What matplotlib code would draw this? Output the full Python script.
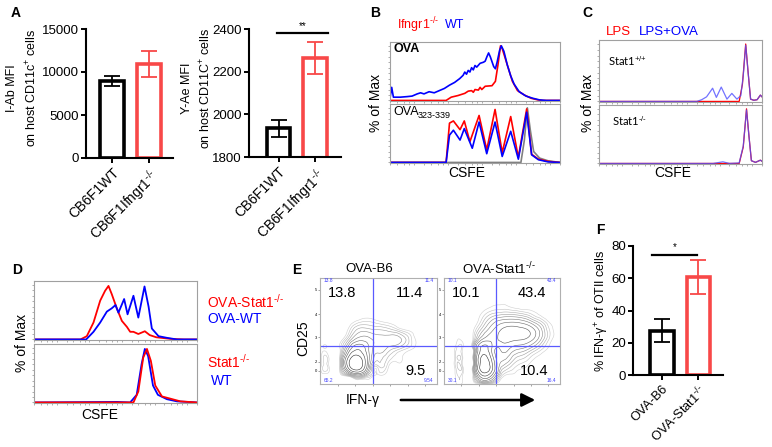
import numpy as np
import matplotlib
matplotlib.use("Agg")
import matplotlib.pyplot as plt
import matplotlib.tri as mtri
from matplotlib.patches import FancyArrowPatch

plt.rcParams['font.family'] = ['Liberation Sans', 'DejaVu Sans']
plt.rcParams['mathtext.fontset'] = 'custom'
plt.rcParams['mathtext.rm'] = 'Liberation Sans'
plt.rcParams['mathtext.it'] = 'Liberation Sans:italic'
plt.rcParams['mathtext.bf'] = 'Liberation Sans:bold'

RED = '#ff0000'
BLUE = '#0000ff'
BAR_RED = '#f84848'
KO = r'$^{\text{-/-}}$'
WTP = r'$^{\text{+/+}}$'

# ---------- data: bar charts ----------
a1_groups = ['CB6F1WT', 'CB6F1Ifngr1' + KO]
a1_means = [8950, 10950]
a1_err = [600, 1500]

a2_groups = ['CB6F1WT', 'CB6F1Ifngr1' + KO]
a2_means = [1935, 2265]
a2_err = [40, 75]

f_groups = ['OVA-B6', 'OVA-Stat1' + KO]
f_means = [27.5, 61]
f_err = [7, 10.5]

# ---------- data: CSFE histograms (x = position in box %, y = % of max) ----------
b_ova_wt_x = [0, 1, 2, 6, 10, 13, 16, 18, 20, 23, 26, 29, 32, 35, 38, 41, 43, 44, 45, 46, 47, 48, 49, 50,
              51, 53, 55, 56, 57, 58, 59, 61, 62, 63, 64.5, 65.5, 67, 69, 71, 73, 76, 80, 84, 88, 92, 100]
b_ova_wt_y = [4, 24, 6, 6, 7, 8, 12, 14, 12, 16, 14, 18, 22, 28, 33, 40, 46, 52, 48, 55, 52, 60, 56, 64,
              61, 68, 70, 72, 80, 87, 80, 62, 58, 70, 92, 100, 90, 65, 45, 30, 16, 8, 4, 1, 0, 0]
b_ova_ko_x = [0, 33, 36, 40, 44, 46, 48, 49, 50, 52, 53, 54, 56, 60, 62, 63.5, 65, 66, 67.5, 69, 72, 75, 79, 83, 87, 90, 100]
b_ova_ko_y = [0, 0, 6, 9, 13, 17, 18, 15, 20, 19, 24, 20, 26, 27, 35, 65, 100, 95, 80, 65, 35, 18, 10, 4, 1, 0, 0]

b_pep_ko_x = [0, 33, 35, 37.3, 41.2, 43.7, 47, 52.4, 56.9, 61.8, 66, 71, 75.5, 80.4, 83.3, 87.3, 93, 100]
b_pep_ko_y = [0, 0, 72, 76, 60, 76, 38, 86, 23, 97, 18, 84, 9, 98, 15, 6, 2, 0]
b_pep_wt_x = [0, 33, 35, 37.3, 41.2, 43.7, 48.4, 52.4, 56.9, 61.8, 66, 71, 75.5, 80.4, 83.3, 87.3, 93, 100]
b_pep_wt_y = [0, 0, 50, 59, 41, 62, 26, 74, 16, 74, 11, 57, 6, 92, 14, 5, 1, 0]
b_pep_ctl_x = [0, 77, 79, 80.8, 82.5, 84.5, 88, 93, 100]
b_pep_ctl_y = [0, 0, 40, 100, 60, 20, 8, 3, 0]

c_wt_lps_x = [0, 86, 88, 90, 91.5, 93, 95, 97, 99, 100]
c_wt_lps_y = [0, 0, 30, 100, 50, 4, 2, 3, 11, 8]
c_wt_ova_x = [0, 60, 63, 66, 69.7, 72, 75, 78.5, 81.5, 84.6, 87, 88.5, 90, 91.5, 93, 95, 97, 99, 100]
c_wt_ova_y = [0, 0, 3, 8, 23, 7, 25, 4, 14, 4, 10, 45, 98, 50, 4, 2, 3, 11, 8]
c_ko_lps_x = [0, 86, 88.5, 90.5, 92, 93.5, 96, 99, 100]
c_ko_lps_y = [0, 0, 30, 100, 50, 5, 2, 6, 4]
c_ko_ova_x = [0, 70, 76, 80, 86, 88.5, 90.5, 92, 93.5, 96, 99, 100]
c_ko_ova_y = [0, 0, 3, 0, 1, 32, 98, 50, 5, 2, 6, 4]

d_ova_ko_x = [0, 28.5, 32.4, 36.5, 40.6, 43.6, 45.7, 47.7, 50.8, 53.9, 57, 59, 61, 64, 68, 71, 75, 84, 92, 100]
d_ova_ko_y = [0, 0, 6, 31, 71, 89, 98, 83, 57, 34, 23, 14, 14, 10, 15, 8, 4, 1, 0, 0]
d_ova_wt_x = [0, 32, 36.5, 40.6, 44.7, 47.7, 50, 51.8, 55.3, 57.4, 61, 64, 67.8, 70.3, 72.3, 76.4, 81.5, 87.7, 100]
d_ova_wt_y = [0, 0, 14, 31, 51, 57, 63, 49, 74, 46, 80, 40, 97, 60, 20, 6, 3, 0, 0]
d_ko_x = [0, 61, 64, 67, 69.3, 71.7, 74.4, 78.5, 83.6, 89.8, 100]
d_ko_y = [0, 0, 20, 82, 98, 76, 31, 11, 7, 2, 0]
d_wt_x = [0, 51, 59, 63, 66, 68, 70, 73, 76, 81.5, 87.7, 100]
d_wt_y = [0, 1, 0, 14, 70, 98, 85, 31, 14, 6, 2, 0]

# ---------- data: IFN-g / CD25 density grids (rows bottom->top, cols left->right) ----------
b6_density = [
    [0, 0, 0, 0, 0, 0, 0, 0, 0, 0, 0, 0, 0],
    [0, 0, 0, 3, 8, 2, 0.3, 0, 0, 0, 0, 0, 0],
    [0, 0, 0.3, 25, 35, 8, 1.5, 0.5, 0.2, 0, 0, 0, 0],
    [0, 0, 0.3, 22, 30, 10, 3, 1.5, 0.6, 0.1, 0, 0, 0],
    [0, 0, 0.2, 10, 18, 9, 5, 3.5, 2, 0.8, 0.2, 0, 0],
    [0, 0, 0, 3, 8, 7, 5, 5, 5, 2, 0.3, 0, 0],
    [0, 0, 0, 0.8, 3.5, 3.5, 3, 2.5, 1.5, 0.5, 0, 0, 0],
    [0, 0, 0, 0.1, 0.8, 1, 0.6, 0.3, 0.1, 0, 0, 0, 0],
    [0, 0, 0, 0, 0, 0, 0, 0, 0, 0, 0, 0, 0],
    [0, 0, 0, 0, 0, 0, 0, 0, 0, 0, 0, 0, 0],
    [0, 0, 0, 0, 0, 0, 0, 0, 0, 0, 0, 0, 0],
    [0, 0, 0, 0, 0, 0, 0, 0, 0, 0, 0, 0, 0],
    [0, 0, 0, 0, 0, 0, 0, 0, 0, 0, 0, 0, 0],
]
stat1_density = [
    [0, 0, 0, 0, 0, 0, 0, 0, 0, 0, 0, 0, 0],
    [0, 0, 0, 0.5, 20, 12, 1, 0.3, 0, 0, 0, 0, 0],
    [0, 0, 0, 1, 35, 20, 4, 1.5, 0.6, 0.2, 0, 0, 0],
    [0, 0, 0, 1, 30, 15, 7, 4, 2, 0.8, 0.2, 0, 0],
    [0, 0, 0, 0.8, 22, 12, 10, 8, 6, 3.5, 1.2, 0.2, 0],
    [0, 0, 0, 0.5, 10, 12, 14, 14, 13, 10, 4, 0.6, 0],
    [0, 0, 0, 0.3, 4, 9, 14, 16, 15, 12, 5, 0.8, 0],
    [0, 0, 0, 0, 1.5, 5, 8, 9, 8, 5, 2, 0.3, 0],
    [0, 0, 0, 0, 0.5, 1.5, 2, 2, 1.5, 0.8, 0.2, 0, 0],
    [0, 0, 0, 0, 0, 0.3, 0.4, 0.2, 0, 0, 0, 0, 0],
    [0, 0, 0, 0, 0, 0, 0, 0, 0, 0, 0, 0, 0],
    [0, 0, 0, 0, 0, 0, 0, 0, 0, 0, 0, 0, 0],
    [0, 0, 0, 0, 0, 0, 0, 0, 0, 0, 0, 0, 0],
]
b6_quadrants = ['13.8', '11.4', '9.5']
b6_corner = ['13.8', '11.4', '65.2', '9.54']
stat1_quadrants = ['10.1', '43.4', '10.4']
stat1_corner = ['10.1', '43.4', '30.1', '16.4']

W, H = 772, 447
fig = plt.figure(figsize=(W / 100, H / 100), dpi=100)


def ax_px(l, t, r, b):
    return fig.add_axes([l / W, 1 - b / H, (r - l) / W, (b - t) / H])


def txt(x, y, s, **kw):
    kw.setdefault('va', 'center')
    fig.text(x / W, 1 - y / H, s, **kw)


def bar_panel(ax, groups, means, errs, ylim, yticks, xlim, xfs=10):
    colors = ['black', BAR_RED]
    for i in range(len(groups)):
        ax.bar(i, means[i], width=0.64, color='white', edgecolor=colors[i], linewidth=2.6, zorder=2)
        ax.errorbar(i, means[i], yerr=errs[i], color=colors[i], capsize=5.5, elinewidth=1.3,
                    capthick=1.3, zorder=3)
    ax.set_ylim(*ylim)
    ax.set_xlim(*xlim)
    ax.set_yticks(yticks)
    ax.set_xticks(range(len(groups)))
    ax.set_xticklabels(groups, rotation=45, ha='right', rotation_mode='anchor', fontsize=xfs)
    ax.tick_params(axis='y', labelsize=9.5, length=3.5, width=1.4, pad=1.5)
    ax.tick_params(axis='x', length=3.5, width=1.4, pad=2)
    for s in ['top', 'right']:
        ax.spines[s].set_visible(False)
    for s in ['left', 'bottom']:
        ax.spines[s].set_linewidth(1.5)


def hist_box(ax):
    ax.set_xlim(0, 100)
    ax.set_ylim(-1, 107)
    for s in ax.spines.values():
        s.set_color('#a0a0a0')
        s.set_linewidth(0.8)
    ax.set_xticks([0, 20, 40, 60, 80, 100])
    ax.set_xticks([4, 8, 11, 14, 24, 28, 31, 34, 44, 48, 51, 54, 64, 68, 71, 74, 84, 88, 91, 94], minor=True)
    ax.set_yticks([0, 20, 40, 60, 80, 100])
    ax.set_yticks([10, 30, 50, 70, 90], minor=True)
    ax.tick_params(which='both', length=1.5, width=0.4, color='#707070', labelbottom=False, labelleft=False)


# ---------- A ----------
ax = ax_px(86, 29, 173, 158)
bar_panel(ax, a1_groups, a1_means, a1_err, (0, 15000), [0, 5000, 10000, 15000], (-0.7, 1.65))
txt(12, 88, 'I-Ab MFI', rotation=90, ha='center', fontsize=9)
txt(32, 88, 'on host CD11c$^{+}$ cells', rotation=90, ha='center', fontsize=9)

ax = ax_px(249, 29, 341, 157)
bar_panel(ax, a2_groups, a2_means, a2_err, (1800, 2400), [1800, 2000, 2200, 2400], (-0.81, 1.71))
ax.plot([-0.05, 1.35], [2381, 2381], color='black', lw=1.6, clip_on=False)
ax.text(0.65, 2392, '**', ha='center', va='bottom', fontsize=7)
txt(187, 88, 'Y-Ae MFI', rotation=90, ha='center', fontsize=9)
txt(206, 88, 'on host CD11C$^{+}$ cells', rotation=90, ha='center', fontsize=9)
txt(16, 13, 'A', fontsize=10, fontweight='bold', ha='center')

# ---------- B ----------
txt(375, 13, 'B', fontsize=10, fontweight='bold', ha='center')
txt(397, 25, 'Ifngr1' + KO, color=RED, fontsize=9)
txt(445, 25, 'WT', color=BLUE, fontsize=9)
ax = ax_px(390, 42, 560, 101)
hist_box(ax)
ax.plot(b_ova_ko_x, b_ova_ko_y, color=RED, lw=1.2)
ax.plot(b_ova_wt_x, b_ova_wt_y, color=BLUE, lw=1.2)
txt(394, 49, 'OVA', fontsize=9, fontweight='bold')
ax = ax_px(390, 104, 560, 163)
hist_box(ax)
ax.plot(b_pep_ctl_x, b_pep_ctl_y, color='#808080', lw=1.2)
ax.plot(b_pep_ko_x, b_pep_ko_y, color=RED, lw=1.2)
ax.plot(b_pep_wt_x, b_pep_wt_y, color=BLUE, lw=1.2)
txt(393, 112, 'OVA', fontsize=9)
txt(418, 115, '323-339', fontsize=6.5)
txt(376, 103, '% of Max', rotation=90, ha='center', fontsize=10)
txt(467, 173, 'CSFE', ha='center', fontsize=10)

# ---------- C ----------
txt(587, 13, 'C', fontsize=10, fontweight='bold', ha='center')
txt(606, 32, 'LPS', color=RED, fontsize=9.5)
txt(639, 32, 'LPS+OVA', color=BLUE, fontsize=9.5)
ax = ax_px(599, 40, 762, 102)
hist_box(ax)
ax.plot(c_wt_lps_x, c_wt_lps_y, color=RED, lw=0.9)
ax.plot(c_wt_ova_x, c_wt_ova_y, color='#5050ff', lw=0.9, alpha=0.8)
txt(608, 61, 'Stat1' + WTP, fontsize=8, family=['Lato', 'DejaVu Sans'])
ax = ax_px(599, 105, 762, 164)
hist_box(ax)
ax.plot(c_ko_lps_x, c_ko_lps_y, color=RED, lw=0.9)
ax.plot(c_ko_ova_x, c_ko_ova_y, color='#5050ff', lw=0.9, alpha=0.8)
txt(612, 121, 'Stat1' + KO, fontsize=8, family=['Lato', 'DejaVu Sans'])
txt(588, 103, '% of Max', rotation=90, ha='center', fontsize=10)
txt(673, 173, 'CSFE', ha='center', fontsize=10)

# ---------- D ----------
txt(17, 270, 'D', fontsize=10, fontweight='bold', ha='center')
ax = ax_px(34, 281, 197, 340)
hist_box(ax)
ax.plot(d_ova_ko_x, d_ova_ko_y, color=RED, lw=1.3)
ax.plot(d_ova_wt_x, d_ova_wt_y, color=BLUE, lw=1.3)
ax = ax_px(34, 344, 197, 403)
hist_box(ax)
ax.plot(d_wt_x, d_wt_y, color=BLUE, lw=1.3)
ax.plot(d_ko_x, d_ko_y, color=RED, lw=1.3)
txt(22, 343, '% of Max', rotation=90, ha='center', fontsize=10)
txt(100, 415, 'CSFE', ha='center', fontsize=10)
txt(207, 302, 'OVA-Stat1' + KO, color=RED, fontsize=10)
txt(207, 319, 'OVA-WT', color=BLUE, fontsize=10)
txt(207, 362, 'Stat1' + KO, color=RED, fontsize=10)
txt(211, 381, 'WT', color=BLUE, fontsize=10)

# ---------- E ----------
txt(297, 270, 'E', fontsize=10, fontweight='bold', ha='center')
gx, gy = np.meshgrid(np.linspace(0, 1, 13), np.linspace(0, 1, 13))
tri = mtri.Triangulation(gx.ravel(), gy.ravel())
refiner = mtri.UniformTriRefiner(tri)
levels = [0.4, 0.9, 1.6, 2.6, 4, 6, 9, 13, 19, 27]
shades = plt.cm.Greys(np.linspace(0.3, 0.85, len(levels)))


def contour_box(ax, dens, quads, corner):
    tri_f, z_f = refiner.refine_field(np.array(dens, dtype=float).ravel(), subdiv=3)
    ax.tricontour(tri_f, z_f, levels=levels, colors=shades, linewidths=0.4)
    ax.axvline(0.45, color='#5a5aff', lw=0.9)
    ax.axhline(0.36, color='#5a5aff', lw=0.9)
    ax.set_xlim(0, 1)
    ax.set_ylim(0, 1)
    for s in ax.spines.values():
        s.set_color('#b0b0b0')
        s.set_linewidth(0.8)
    ax.set_yticks([0.125, 0.21, 0.44, 0.66, 0.89])
    ax.set_yticklabels(['0', '2', '3', '4', '5'])
    ax.set_xticks([0.15, 0.3, 0.45, 0.6, 0.75, 0.9])
    ax.tick_params(length=1.5, width=0.4, color='#606060', labelsize=3, pad=0.5, labelbottom=False)
    ax.text(0.07, 0.86, quads[0], transform=ax.transAxes, fontsize=10.5, va='center')
    ax.text(0.88, 0.86, quads[1], transform=ax.transAxes, fontsize=10.5, ha='right', va='center')
    ax.text(0.9, 0.12, quads[2], transform=ax.transAxes, fontsize=10.5, ha='right', va='center')
    kw = dict(transform=ax.transAxes, fontsize=3.5, color='#4040ff', va='center')
    ax.text(0.03, 0.975, corner[0], **kw)
    ax.text(0.97, 0.975, corner[1], ha='right', **kw)
    ax.text(0.03, 0.03, corner[2], **kw)
    ax.text(0.97, 0.03, corner[3], ha='right', **kw)


ax = ax_px(320, 278, 437, 384)
contour_box(ax, b6_density, b6_quadrants, b6_corner)
ax = ax_px(444, 278, 560, 384)
contour_box(ax, stat1_density, stat1_quadrants, stat1_corner)
txt(369, 269, 'OVA-B6', ha='center', fontsize=9.5)
txt(499, 269, 'OVA-Stat1' + KO, ha='center', fontsize=9.5)
txt(303, 338, 'CD25', rotation=90, ha='center', fontsize=10)
txt(363, 400, 'IFN-γ', ha='center', fontsize=10)
fig.add_artist(FancyArrowPatch((398 / W, 1 - 400 / H), (538 / W, 1 - 400 / H),
                               transform=fig.transFigure, arrowstyle='-|>,head_length=5,head_width=2.5',
                               color='black', lw=1.8, mutation_scale=1.6))

# ---------- F ----------
txt(600, 230, 'F', fontsize=10, fontweight='bold', ha='center')
ax = ax_px(633, 246, 723, 375)
bar_panel(ax, f_groups, f_means, f_err, (0, 80), [0, 20, 40, 60, 80], (-0.79, 1.67), xfs=9.3)
ax.plot([-0.27, 0.97], [74.6, 74.6], color='black', lw=1.6, clip_on=False)
ax.text(0.35, 76, '*', ha='center', va='bottom', fontsize=7)
txt(602, 311, '% IFN-γ$^{+}$ of OTII cells', rotation=90, ha='center', fontsize=9)

fig.savefig('out.png', dpi=100)
